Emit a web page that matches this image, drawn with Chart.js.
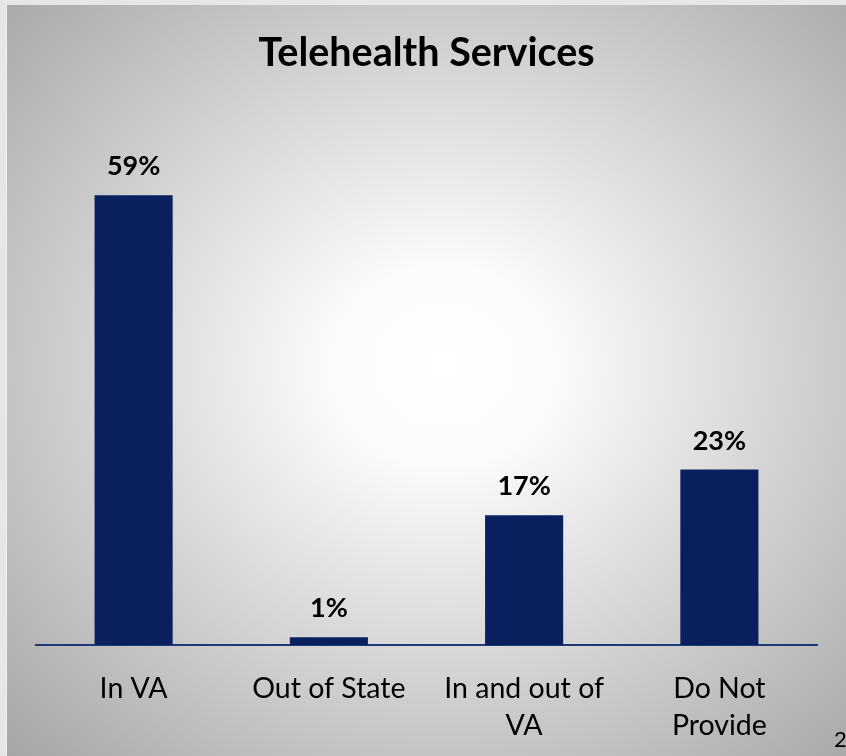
<!DOCTYPE html>
<html>
<head>
<meta charset="utf-8">
<script src="https://cdn.jsdelivr.net/npm/chart.js@4"></script>
<style>
  html, body { margin: 0; padding: 0; }
  body { width: 846px; height: 756px; background: #e6e6e6; position: relative; overflow: hidden; }
  #panel {
    position: absolute; left: 6px; top: 5px; width: 839px; height: 751px;
    border-left: 1px solid #f2f2f2;
    background: radial-gradient(ellipse at 52% 48%, #ffffff 0%, #fbfbfb 18%, #a5a5a5 100%);
  }
  #wrap { position: absolute; left: 0; top: 0; width: 846px; height: 782px; }
</style>
</head>
<body>
<div id="panel"></div>
<div id="wrap"><canvas id="myChart" width="846" height="782"></canvas></div>
<script>
const categories = ["In VA", "Out of State", ["In and out of", "VA"], ["Do Not", "Provide"]];
const percents = [59, 1, 17, 23];
const chartTitle = "Telehealth Services";
const pageNumber = "2";

// writes the percentage above every bar, plus the slide number in the corner
const barLabels = {
  id: "barLabels",
  afterDatasetsDraw(chart) {
    const ctx = chart.ctx;
    const meta = chart.getDatasetMeta(0);
    ctx.save();
    ctx.fillStyle = "#000";
    ctx.font = "bold 27px Lato";
    ctx.textAlign = "center";
    ctx.textBaseline = "alphabetic";
    meta.data.forEach((bar, i) => {
      ctx.fillText(percents[i] + "%", bar.x, bar.y - 20);
    });
    ctx.restore();
  },
  afterDraw(chart) {
    const ctx = chart.ctx;
    ctx.save();
    ctx.fillStyle = "#000";
    ctx.font = "22px Lato";
    ctx.textAlign = "left";
    ctx.textBaseline = "alphabetic";
    ctx.fillText(pageNumber, 834, 747);
    ctx.restore();
  }
};

const ctx = document.getElementById("myChart").getContext("2d");
const myChart = new Chart(ctx, {
  type: "bar",
  data: {
    labels: categories,
    datasets: [{
      data: percents,
      backgroundColor: "#0a205e",
      borderWidth: 0,
      barPercentage: 0.4,
      categoryPercentage: 1
    }]
  },
  options: {
    responsive: false,
    animation: false,
    layout: { padding: { left: 36, right: 29, top: 0, bottom: 13 } },
    plugins: {
      legend: { display: false },
      tooltip: { enabled: false },
      title: {
        display: true,
        text: chartTitle,
        color: "#000",
        font: { family: "Lato", size: 39.5, weight: "bold", lineHeight: 1.2 },
        padding: { top: 30, bottom: 72 }
      }
    },
    scales: {
      x: {
        grid: { display: false, drawTicks: false },
        border: { display: true, color: "#1f3878", width: 2 },
        ticks: {
          color: "#000",
          font: { family: "Lato", size: 28.5, lineHeight: 1.3 },
          padding: 25,
          maxRotation: 0,
          autoSkip: false
        }
      },
      y: {
        display: false,
        min: 0,
        max: 65
      }
    }
  },
  plugins: [barLabels]
});
</script>
</body>
</html>
